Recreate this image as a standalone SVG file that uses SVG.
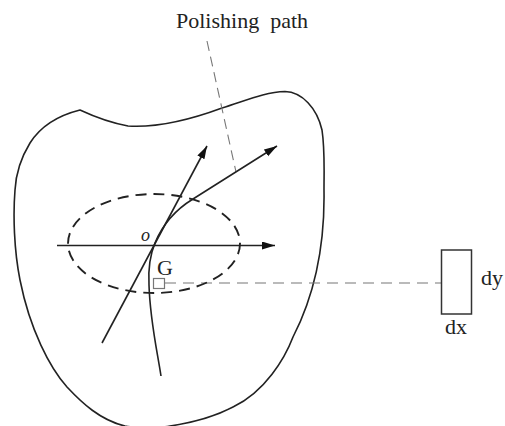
<svg xmlns="http://www.w3.org/2000/svg" width="505" height="426" viewBox="0 0 505 426">
<style>
text{font-family:"Liberation Serif","Times New Roman",serif;fill:#222}
.l{fill:none;stroke:#222;stroke-width:1.6}
.b{fill:none;stroke:#222;stroke-width:1.9}
.d{fill:none;stroke:#777;stroke-width:1.1}
</style>
<defs><marker id="a" markerUnits="userSpaceOnUse" markerWidth="14" markerHeight="10" refX="13" refY="4" orient="auto"><path d="M0 0L13 4L0 8z" fill="#111"/></marker></defs>
<rect width="505" height="426" fill="#fff"/>
<g id="outline"><path class="l" d="M80 110C95 117 112 123 128 126C160 128 195 118 222 108C245 101 265 92 285 91.500C302 92 317 108 322 130C325 150 324 170 324 190C325 250 312 300 293 337C285 358 265 392 233 407C212 418 190 423 170 426Q148 430 125 426C100 420 82 403 67 387C50 368 30 330 20 280C14 250 13 215 15 190C16 172 22 156 30 143C42 124 60 115 80 110Z"/></g>
<g id="connectors">
<path class="d" stroke-dasharray="10 6" d="M207 41L236 172"/>
<path class="d" stroke-dasharray="11 7" d="M165 283H442"/>
<path class="l" d="M57 245.500H275" marker-end="url(#a)"/>
<path class="l" d="M102 343L207 146" marker-end="url(#a)"/>
<path class="l" d="M161 376C157 350 150 320 149 285C148 268 150 255 155 243C162 226 175 210 193 199L277 146" marker-end="url(#a)"/>
</g>
<g id="ellipse"><ellipse class="b" cx="154" cy="243.500" rx="86" ry="49.500" stroke-dasharray="11 7"/></g>
<g id="element-g"><rect x="153.500" y="278.500" width="11" height="10" fill="#fff" stroke="#777" stroke-width="1.200"/><text x="157" y="275" font-size="22">G</text></g>
<g id="origin"><text x="141" y="241" font-size="18" font-style="italic">o</text></g>
<g id="element-rect"><rect x="441.500" y="250" width="30" height="64" fill="#fff" stroke="#333" stroke-width="1.500"/><text x="481" y="285" font-size="22">dy</text><text x="445" y="334" font-size="22">dx</text></g>
<g id="polishing-label"><text x="176" y="28" font-size="22" xml:space="preserve">Polishing  path</text></g>
</svg>
